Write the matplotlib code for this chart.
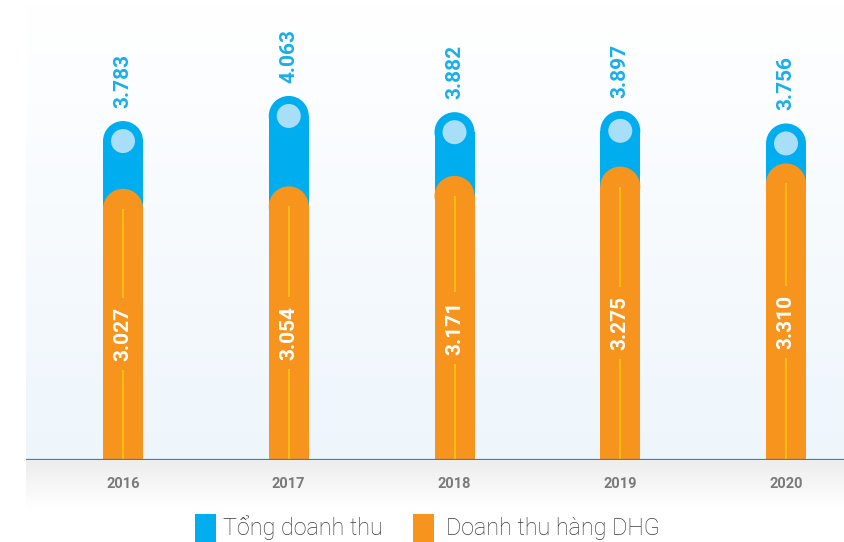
"""
Revenue chart: total revenue vs DHG product revenue, 2016-2020.
Rounded "pill" bars with value labels rotated inside/above.
"""

import matplotlib
matplotlib.use('Agg')
import matplotlib.pyplot as plt
from matplotlib.patches import Ellipse, Rectangle
from matplotlib.transforms import blended_transform_factory
import numpy as np

# Data
years = ['2016', '2017', '2018', '2019', '2020']
total_revenue = [3.783, 4.063, 3.882, 3.897, 3.756]
dhg_revenue = [3.027, 3.054, 3.171, 3.275, 3.310]
total_labels = ['3.783', '4.063', '3.882', '3.897', '3.756']
dhg_labels = ['3.027', '3.054', '3.171', '3.275', '3.310']

BLUE = '#00aeef'
ORANGE = '#f7941d'
LIGHT = '#a9def8'
YELLOW = '#ffc20e'
BLUE_TXT = '#19afec'

W, H = 845, 542
fig = plt.figure(figsize=(W / 100, H / 100), dpi=100)
fig.patch.set_facecolor('white')

# gray gradient strip under the baseline
ax_bg = fig.add_axes([26 / W, (H - 508) / H, (W - 26) / W, 48 / H])
grad = np.linspace(0, 1, 64).reshape(-1, 1)
ax_bg.imshow(grad, cmap=matplotlib.colors.LinearSegmentedColormap.from_list(
    'g', ['#ededed', '#ffffff']), aspect='auto', extent=(0, 1, 0, 1))
ax_bg.axis('off')

# main plot area, baseline at y=460 px
ax = fig.add_axes([26 / W, (H - 460) / H, (W - 26) / W, 460 / H])
ax.set_facecolor('none')
px_x = 165.75           # px per category
px_y = 89.6             # px per unit of value
ax.set_xlim(-97 / px_x, (W - 26 - 97) / px_x)
ax.set_ylim(0, 460 / px_y)

bg = np.linspace(0, 1, 128).reshape(-1, 1)
ax.imshow(bg, cmap=matplotlib.colors.LinearSegmentedColormap.from_list(
    'b', ['#ffffff', '#eef6fc']), aspect='auto',
    extent=(*ax.get_xlim(), *ax.get_ylim()), zorder=0)

bw = 40 / px_x
ry = 20 / px_y
x = np.arange(len(years))


def pill(xc, top, color, z):
    ax.add_patch(Rectangle((xc - bw / 2, 0), bw, top - ry, color=color,
                           lw=0, zorder=z))
    ax.add_patch(Ellipse((xc, top - ry), bw, 2 * ry, color=color, lw=0,
                         zorder=z))


for i in x:
    t = total_revenue[i]
    d = dhg_revenue[i]
    pill(i, t, BLUE, 2)
    ax.add_patch(Ellipse((i, t - ry), 24 / px_x, 24 / px_y, color=LIGHT,
                         lw=0, zorder=3))
    pill(i, d, ORANGE, 4)

    ax.text(i, t + 13 / px_y, total_labels[i], rotation=90, ha='center',
            va='bottom', color=BLUE_TXT, fontsize=15, fontweight='bold',
            family='Roboto', zorder=6)

    mid = (d - ry) / 2
    gap = 36 / px_y
    ax.plot([i, i], [d - ry, mid + gap], color=YELLOW, lw=1.3, zorder=5,
            solid_capstyle='butt')
    ax.plot([i, i], [0, mid - gap], color=YELLOW, lw=1.3, zorder=5,
            solid_capstyle='butt')
    ax.text(i, mid, dhg_labels[i], rotation=90, ha='center', va='center',
            color='white', fontsize=15, fontweight='bold', family='Roboto',
            zorder=6)

ax.axhline(0, color='#1a8ad4', lw=1.6, zorder=7)

# year labels below the baseline
trans = blended_transform_factory(ax.transData, fig.transFigure)
for i, yr in enumerate(years):
    fig.text(i, (H - 484) / H, yr, transform=trans, ha='center', va='center',
             color='#7a7a7a', fontsize=10.5, fontweight='bold', family='Roboto')

for s in ax.spines.values():
    s.set_visible(False)
ax.set_xticks([])
ax.set_yticks([])

# legend
ly = (H - 528) / H
fig.patches.append(Rectangle((195 / W, (H - 542) / H), 21 / W, 28 / H,
                             transform=fig.transFigure, color=BLUE, lw=0))
fig.text(223 / W, ly, 'Tổng doanh thu', ha='left', va='center',
         color='#3a3a3a', fontsize=16.8, family='Roboto', fontweight='light')
fig.patches.append(Rectangle((413 / W, (H - 542) / H), 21 / W, 28 / H,
                             transform=fig.transFigure, color=ORANGE, lw=0))
fig.text(446 / W, ly, 'Doanh thu hàng DHG', ha='left', va='center',
         color='#3a3a3a', fontsize=16.8, family='Roboto', fontweight='light')

fig.savefig('out.png', dpi=100, facecolor='white')
